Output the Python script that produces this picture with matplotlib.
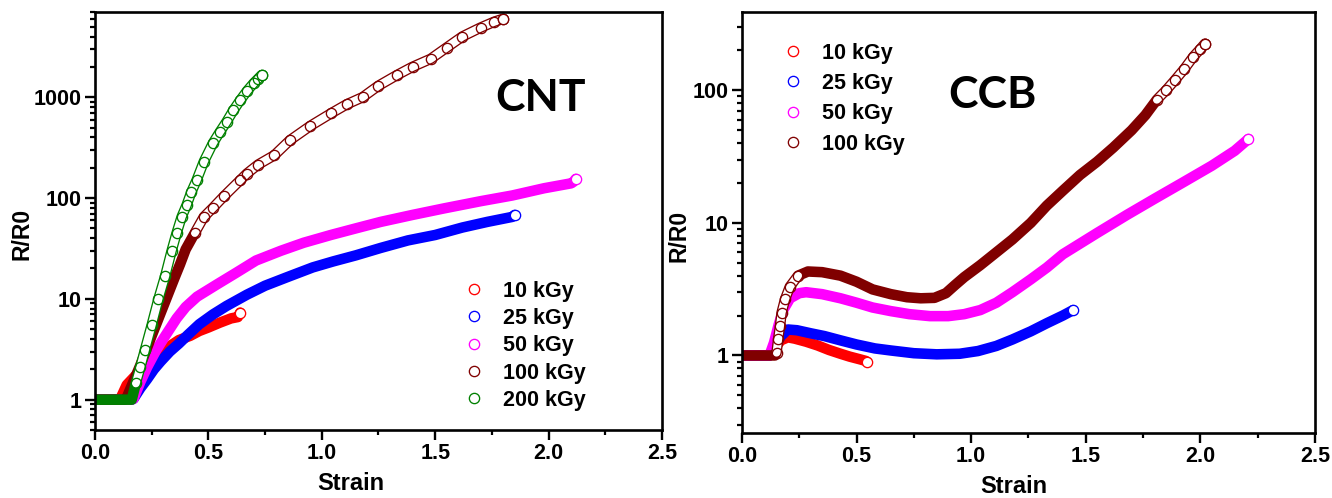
import numpy as np
import matplotlib
matplotlib.use("Agg")
import matplotlib.pyplot as plt
from matplotlib.lines import Line2D
from matplotlib.ticker import FixedLocator, FixedFormatter, LogLocator, NullFormatter, MultipleLocator, FormatStrFormatter

plt.rcParams['font.family'] = ['Liberation Sans', 'DejaVu Sans']
plt.rcParams['font.weight'] = 'bold'

# ---------------- CNT panel ----------------
cnt_labels = ['10 kGy', '25 kGy', '50 kGy', '100 kGy', '200 kGy']

cnt10_x = [0.0, 0.11, 0.14, 0.17, 0.20, 0.25, 0.29, 0.33, 0.37, 0.42, 0.46, 0.50, 0.55, 0.60, 0.63, 0.64]
cnt10_y = [1.0, 1.0, 1.4, 1.65, 1.95, 2.5, 3.0, 3.4, 3.9, 4.3, 4.8, 5.2, 5.8, 6.4, 6.6, 7.3]

cnt25_x = [0.0, 0.16, 0.17, 0.20, 0.23, 0.26, 0.29, 0.33, 0.37, 0.41, 0.46, 0.52, 0.58, 0.67, 0.75,
           0.85, 0.96, 1.05, 1.15, 1.26, 1.38, 1.50, 1.62, 1.73, 1.84, 1.85]
cnt25_y = [1.0, 1.0, 1.02, 1.3, 1.6, 2.0, 2.4, 3.0, 3.6, 4.4, 5.6, 7.0, 8.5, 11.0, 13.5,
           16.5, 20.5, 23.5, 27.0, 32.0, 38.0, 43.0, 51.0, 58.0, 65.0, 68.0]

cnt50_x = [0.0, 0.16, 0.17, 0.20, 0.23, 0.27, 0.31, 0.36, 0.40, 0.45, 0.54, 0.62, 0.71, 0.82, 0.92,
           1.04, 1.15, 1.26, 1.40, 1.54, 1.70, 1.84, 1.98, 2.10, 2.11, 2.12]
cnt50_y = [1.0, 1.0, 1.02, 1.5, 2.1, 3.1, 4.3, 6.4, 8.3, 10.5, 14.0, 18.0, 24.0, 30.0, 36.0,
           43.0, 50.0, 58.0, 68.0, 79.0, 93.0, 106.0, 125.0, 140.0, 145.0, 155.0]

cnt100_x = [0.0, 0.13, 0.14, 0.20, 0.25, 0.30, 0.35, 0.375, 0.40, 0.44, 0.48, 0.52, 0.57, 0.64, 0.67,
            0.72, 0.79, 0.86, 0.95, 1.04, 1.11, 1.18, 1.25, 1.33, 1.40, 1.48, 1.55, 1.62, 1.70, 1.76, 1.80]
cnt100_y = [1.0, 1.0, 1.05, 2.2, 4.3, 8.3, 16.0, 22.0, 31.0, 45.0, 65.0, 80.0, 105.0, 150.0, 175.0,
            215.0, 265.0, 375.0, 520.0, 690.0, 850.0, 1000.0, 1300.0, 1650.0, 2000.0, 2400.0, 3100.0,
            4000.0, 4900.0, 5600.0, 6000.0]

cnt200_x = [0.0, 0.162, 0.18, 0.20, 0.22, 0.25, 0.28, 0.31, 0.338, 0.36, 0.382, 0.404, 0.425, 0.448,
            0.48, 0.52, 0.55, 0.58, 0.61, 0.64, 0.67, 0.70, 0.72, 0.735]
cnt200_y = [1.0, 1.0, 1.45, 2.1, 3.1, 5.5, 10.0, 17.0, 30.0, 45.0, 65.0, 85.0, 115.0, 150.0,
            230.0, 350.0, 450.0, 570.0, 740.0, 930.0, 1150.0, 1380.0, 1530.0, 1660.0]

# ---------------- CCB panel ----------------
ccb_labels = ['10 kGy', '25 kGy', '50 kGy', '100 kGy']

ccb10_x = [0.0, 0.12, 0.14, 0.17, 0.20, 0.23, 0.28, 0.33, 0.38, 0.43, 0.47, 0.51, 0.54, 0.545]
ccb10_y = [1.0, 1.0, 1.12, 1.3, 1.37, 1.34, 1.27, 1.19, 1.1, 1.03, 0.98, 0.94, 0.91, 0.90]

ccb25_x = [0.0, 0.12, 0.14, 0.17, 0.20, 0.24, 0.30, 0.36, 0.43, 0.50, 0.58, 0.65, 0.75, 0.85,
           0.95, 1.03, 1.11, 1.18, 1.26, 1.33, 1.40, 1.445]
ccb25_y = [1.0, 1.0, 1.15, 1.4, 1.57, 1.55, 1.47, 1.40, 1.30, 1.21, 1.13, 1.09, 1.04, 1.02,
           1.03, 1.08, 1.18, 1.32, 1.52, 1.75, 2.0, 2.2]

ccb50_x = [0.0, 0.12, 0.14, 0.16, 0.18, 0.21, 0.25, 0.28, 0.35, 0.43, 0.50, 0.57, 0.65, 0.73, 0.82,
           0.90, 0.97, 1.04, 1.11, 1.18, 1.26, 1.33, 1.40, 1.55, 1.68, 1.80, 1.92, 2.05, 2.15, 2.21]
ccb50_y = [1.0, 1.0, 1.25, 1.7, 2.2, 2.7, 2.95, 3.0, 2.9, 2.7, 2.5, 2.3, 2.16, 2.05, 1.98,
           1.98, 2.05, 2.2, 2.5, 3.0, 3.75, 4.6, 5.8, 8.4, 11.5, 15.2, 20.0, 27.0, 35.0, 43.0]

ccb100_x = [0.0, 0.144, 0.151, 0.158, 0.166, 0.173, 0.188, 0.209, 0.245, 0.288, 0.35, 0.43, 0.50,
            0.57, 0.65, 0.72, 0.78, 0.84, 0.89, 0.93, 0.97, 1.04, 1.11, 1.18, 1.26, 1.33, 1.40,
            1.475, 1.55, 1.62, 1.70, 1.76, 1.81, 1.85, 1.89, 1.93, 1.97, 2.00, 2.02]
ccb100_y = [1.0, 1.0, 1.05, 1.32, 1.66, 2.1, 2.65, 3.3, 4.0, 4.3, 4.25, 4.0, 3.6,
            3.15, 2.9, 2.75, 2.7, 2.72, 2.95, 3.4, 3.9, 4.8, 6.0, 7.5, 10.0, 13.5, 17.5,
            23.0, 29.0, 37.0, 50.0, 65.0, 85.0, 100.0, 120.0, 145.0, 180.0, 205.0, 225.0]

colors = ['#FF0000', '#0000FF', '#FF00FF', '#800000', '#008000']

BAND = 7.6   # band width (pt) ~ circle diameter
MS = 7.4
MEW = 0.95


def draw_series(ax, x, y, color, hollow=()):
    x = np.asarray(x)
    y = np.asarray(y)
    ax.plot(x, y, color=color, lw=BAND, solid_capstyle='round', solid_joinstyle='round')
    # parts where the original circles are spread out -> ring-chain look
    for lo, hi in hollow:
        m = (x >= lo) & (x <= hi)
        ax.plot(x[m], y[m], color='white', lw=BAND - 2 * MEW, solid_capstyle='round',
                solid_joinstyle='round')
        ax.plot(x[m], y[m], 'o', ms=MS, mfc='none', mec=color, mew=MEW)
    ax.plot(x[-1], y[-1], 'o', ms=MS, mfc='white', mec=color, mew=MEW)


def style_axes(ax, ylim, yticks):
    ax.set_xlim(0, 2.5)
    ax.set_yscale('log')
    ax.set_ylim(*ylim)
    ax.xaxis.set_major_locator(MultipleLocator(0.5))
    ax.xaxis.set_minor_locator(MultipleLocator(0.25))
    ax.xaxis.set_major_formatter(FormatStrFormatter('%.1f'))
    ax.yaxis.set_major_locator(FixedLocator(yticks))
    ax.yaxis.set_major_formatter(FixedFormatter([str(t) for t in yticks]))
    ax.yaxis.set_minor_locator(LogLocator(base=10, subs=np.arange(2, 10)))
    ax.yaxis.set_minor_formatter(NullFormatter())
    ax.tick_params(which='major', direction='out', length=7, width=1.7, labelsize=15.5, pad=2.5)
    ax.tick_params(which='minor', direction='out', length=3.8, width=1.6)
    ax.tick_params(top=False, right=False, which='both')
    for s in ax.spines.values():
        s.set_linewidth(1.9)
    ax.set_xlabel('Strain', fontsize=17, fontweight='bold')
    ax.set_ylabel('R/R0', fontsize=16.5, fontweight='bold')
    ax.xaxis.label.set_va('center')
    ax.yaxis.label.set_va('center')


def legend(ax, labels, cols, anchor, spacing):
    handles = [Line2D([], [], ls='none', marker='o', ms=MS, mfc='none', mec=c, mew=MEW) for c in cols]
    ax.legend(handles, labels, loc='upper left', bbox_to_anchor=anchor, frameon=False,
              prop={'size': 15.5, 'weight': 'bold'}, handlelength=1.0, handletextpad=0.85,
              labelspacing=spacing, borderpad=0, borderaxespad=0)


fig = plt.figure(figsize=(13.32, 4.98), dpi=100)

ax1 = fig.add_axes([0.0713, 0.1365, 0.4257, 0.8394])
draw_series(ax1, cnt10_x, cnt10_y, colors[0])
draw_series(ax1, cnt25_x, cnt25_y, colors[1])
draw_series(ax1, cnt50_x, cnt50_y, colors[2])
draw_series(ax1, cnt100_x, cnt100_y, colors[3], hollow=[(0.42, 2.0)])
draw_series(ax1, cnt200_x, cnt200_y, colors[4], hollow=[(0.17, 1.0)])
style_axes(ax1, (0.5, 7000), [1, 10, 100, 1000])
ax1.xaxis.set_label_coords(0.452, -0.129)
ax1.yaxis.set_label_coords(-0.128, 0.469)
ax1.text(0.785, 0.794, 'CNT', transform=ax1.transAxes, ha='center', va='center',
         fontsize=32, fontweight='bold', family=['Lato', 'DejaVu Sans'])
legend(ax1, cnt_labels, colors, (0.649, 0.357), 0.29)

ax2 = fig.add_axes([0.557, 0.1305, 0.4302, 0.8454])
draw_series(ax2, ccb10_x, ccb10_y, colors[0])
draw_series(ax2, ccb25_x, ccb25_y, colors[1])
draw_series(ax2, ccb50_x, ccb50_y, colors[2])
draw_series(ax2, ccb100_x, ccb100_y, colors[3], hollow=[(0.15, 0.25), (1.80, 2.1)])
style_axes(ax2, (0.26, 390), [1, 10, 100])
ax2.xaxis.set_label_coords(0.475, -0.126)
ax2.yaxis.set_label_coords(-0.11, 0.468)
ax2.text(0.438, 0.803, 'CCB', transform=ax2.transAxes, ha='center', va='center',
         fontsize=32, fontweight='bold', family=['Lato', 'DejaVu Sans'])
legend(ax2, ccb_labels, colors[:4], (0.070, 0.927), 0.43)

fig.savefig('out.png', dpi=100)
